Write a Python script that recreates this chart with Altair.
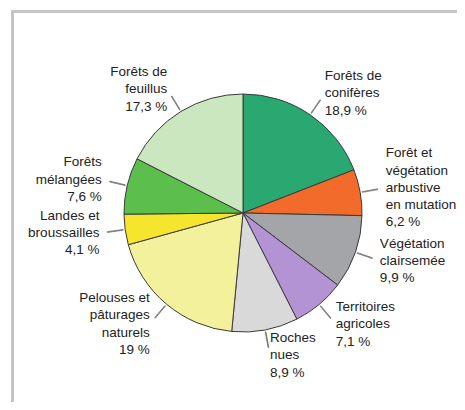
import altair as alt
import pandas as pd

categories = [
    "Forêts de conifères",
    "Forêt et végétation arbustive en mutation",
    "Végétation clairsemée",
    "Territoires agricoles",
    "Roches nues",
    "Pelouses et pâturages naturels",
    "Landes et broussailles",
    "Forêts mélangées",
    "Forêts de feuillus",
]
labels = [
    "Forêts de\nconifères\n18,9 %",
    "Forêt et\nvégétation\narbustive\nen mutation\n6,2 %",
    "Végétation\nclairsemée\n9,9 %",
    "Territoires\nagricoles\n7,1 %",
    "Roches\nnues\n8,9 %",
    "Pelouses et\npâturages\nnaturels\n19 %",
    "Landes et\nbroussailles\n4,1 %",
    "Forêts\nmélangées\n7,6 %",
    "Forêts de\nfeuillus\n17,3 %",
]
values = [18.9, 6.2, 9.9, 7.1, 8.9, 19, 4.1, 7.6, 17.3]
colors = ["#2aa872", "#f26b2b", "#a4a5a9", "#b393d3", "#d9d9d9",
          "#f4f19c", "#f5e52c", "#5cbf4c", "#cbe7bf"]

df = pd.DataFrame({
    "category": categories,
    "label": labels,
    "value": values,
    "order": list(range(len(values))),
})

FONT = "Liberation Sans"
W, H = 428, 378
CX, CY = W / 2, H / 2
R_PIE = 119
R_LAB = 145
LH = 17.3

base = alt.Chart(df).transform_window(
    cum="sum(value)", sort=[{"field": "order"}], frame=[None, 0]
).transform_joinaggregate(
    total="sum(value)"
).transform_calculate(
    t0="2*PI*(datum.cum - datum.value)/datum.total",
    t1="2*PI*datum.cum/datum.total",
).transform_calculate(
    tm="(datum.t0 + datum.t1)/2",
    la="(datum.t0 + datum.t1)/2 - 0.003",
    lb="(datum.t0 + datum.t1)/2 + 0.003",
    nl="split(datum.label, '\\n').length",
).transform_calculate(
    lx=f"{CX} + {R_LAB}*sin(datum.tm)",
    ly=f"{CY} - {R_LAB}*cos(datum.tm) - (datum.nl - 1)*{LH}/2",
)

pie = base.mark_arc(radius=R_PIE, stroke="#3a3a3a", strokeWidth=1).encode(
    theta=alt.Theta("t0:Q", scale=None),
    theta2=alt.Theta2("t1:Q"),
    color=alt.Color("category:N",
                    scale=alt.Scale(domain=categories, range=colors),
                    legend=None),
)

leaders = base.mark_arc(radius=R_PIE + 2, radius2=R_PIE + 18, color="#777777",
                        stroke="#777777", strokeWidth=0.8).encode(
    theta=alt.Theta("la:Q", scale=None),
    theta2=alt.Theta2("lb:Q"),
)

text_style = dict(baseline="middle", font=FONT, fontSize=13.5,
                  lineBreak="\n", lineHeight=LH, color="#222222")

text_right = base.transform_filter("datum.tm < PI").mark_text(
    align="left", **text_style
).encode(
    x=alt.X("lx:Q", scale=None),
    y=alt.Y("ly:Q", scale=None),
    text="label:N",
)

text_left = base.transform_filter("datum.tm >= PI").mark_text(
    align="right", **text_style
).encode(
    x=alt.X("lx:Q", scale=None),
    y=alt.Y("ly:Q", scale=None),
    text="label:N",
)

frame_top = alt.Chart(df).mark_rule(color="#c4c4c4", strokeWidth=2).encode(
    x=alt.value(-17), x2=alt.value(440), y=alt.value(-12.5)
)
frame_left = alt.Chart(df).mark_rule(color="#c4c4c4", strokeWidth=2).encode(
    x=alt.value(-16.5), y=alt.value(-13.5), y2=alt.value(390)
)

chart = alt.layer(frame_top, frame_left, pie, leaders, text_right, text_left).properties(
    width=W,
    height=H,
    autosize=alt.AutoSizeParams(type="none"),
    padding={"left": 21, "top": 16, "right": 0, "bottom": 0},
).configure_view(stroke=None)

chart.save("out.html", embed_options={"renderer": "svg", "actions": False})
